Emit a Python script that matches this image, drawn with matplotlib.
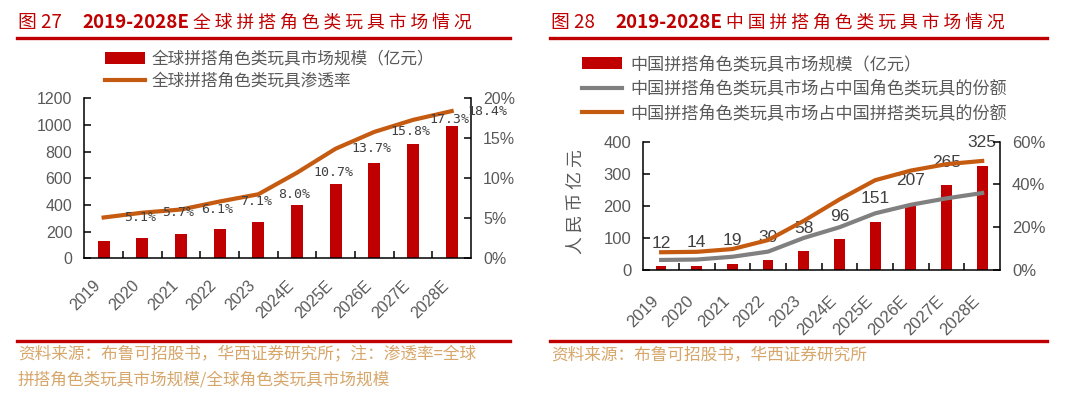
import numpy as np
import matplotlib
matplotlib.use("Agg")
import matplotlib.pyplot as plt
from matplotlib.ticker import PercentFormatter

# data
years = ["2019", "2020", "2021", "2022", "2023", "2024E", "2025E", "2026E", "2027E", "2028E"]
global_size = [128, 151, 183, 223, 275, 401, 561, 713, 854, 990]          # 亿元
global_rate = [5.1, 5.7, 6.1, 7.1, 8.0, 10.7, 13.7, 15.8, 17.3, 18.4]     # %
china_size = [12, 14, 19, 30, 58, 96, 151, 207, 265, 325]                 # 人民币亿元
share_of_role = [4.7, 4.9, 6.2, 8.6, 15.0, 20.0, 26.5, 30.5, 33.5, 36.0]   # % of China role toys
share_of_build = [8.3, 8.5, 9.8, 14.0, 23.0, 33.0, 42.0, 46.5, 49.5, 51.0]  # % of China building toys

RED = "#C00000"
ORANGE = "#C55A11"
GRAY = "#808080"
TXT = "#595959"
LBL = "#404040"
SRC = "#D6A66A"
CJK = ["Noto Sans CJK SC", "DejaVu Sans"]

plt.rcParams["font.family"] = ["Liberation Sans", "Noto Sans CJK SC"]

W, H = 1074, 396
fig = plt.figure(figsize=(W / 100, H / 100), dpi=100)


def fx(px):
    return px / W


def fy(py):
    return 1 - py / H


def style(ax, axr, fs, xpad):
    for a in (ax, axr):
        a.spines["top"].set_visible(False)
        for s in a.spines.values():
            s.set_linewidth(1.1)
            s.set_color("black")
    ax.spines["right"].set_visible(False)
    axr.spines["left"].set_visible(False)
    axr.spines["bottom"].set_visible(False)
    ax.tick_params(axis="y", direction="in", length=5, width=1.1, pad=8.6,
                   labelsize=fs, labelcolor=TXT)
    axr.tick_params(axis="y", direction="in", length=5, width=1.1, pad=8.6,
                    labelsize=fs, labelcolor=TXT)
    idx = np.arange(len(years))
    ax.set_xticks(idx)
    ax.set_xticklabels(years, rotation=45, ha="right")
    ax.set_xticks(idx[:-1] + 0.5, minor=True)
    ax.tick_params(axis="x", which="major", length=0, pad=xpad, labelsize=fs, labelcolor=TXT)
    ax.tick_params(axis="x", which="minor", direction="in", length=5, width=1.1)
    ax.set_xlim(-0.5, len(years) - 0.5)
    axr.yaxis.set_major_formatter(PercentFormatter(xmax=100, decimals=0))


x = np.arange(len(years))

# ---- left: global market ----
ax1 = fig.add_axes([fx(84.3), fy(258.3), (471 - 84.3) / W, 160 / H])
ax1r = ax1.twinx()
bars1 = ax1.bar(x, global_size, width=0.31, color=RED)
line1, = ax1r.plot(x, global_rate, color=ORANGE, lw=3)
ax1.set_ylim(0, 1200)
ax1.set_yticks(range(0, 1201, 200))
ax1r.set_ylim(0, 20)
ax1r.set_yticks(range(0, 21, 5))
style(ax1, ax1r, 11.5, 14)
for i, v in enumerate(global_rate):
    ax1r.annotate(f"{v:.1f}%", (x[i], v), xytext=(26, 0), textcoords="offset points",
                  ha="center", va="center", fontsize=9.5, family="DejaVu Sans Mono", color=LBL)

fig.legend(handles=[bars1, line1],
           labels=["全球拼搭角色类玩具市场规模（亿元）", "全球拼搭角色类玩具渗透率"],
           loc="upper left", bbox_to_anchor=(fx(105), fy(51)), frameon=False,
           prop={"family": CJK, "size": 12}, labelcolor=TXT, handlelength=2.4,
           handletextpad=0.42, borderpad=0, borderaxespad=0, labelspacing=0.3)

# ---- right: China market ----
ax2 = fig.add_axes([fx(643.3), fy(270), 356.7 / W, 128.3 / H])
ax2r = ax2.twinx()
bars2 = ax2.bar(x, china_size, width=0.3, color=RED)
line_role, = ax2r.plot(x, share_of_role, color=GRAY, lw=3)
line_build, = ax2r.plot(x, share_of_build, color=ORANGE, lw=3)
ax2.set_ylim(0, 400)
ax2.set_yticks(range(0, 401, 100))
ax2r.set_ylim(0, 60)
ax2r.set_yticks(range(0, 61, 20))
style(ax2, ax2r, 12, 16.5)
for i, v in enumerate(china_size):
    ax2.annotate(str(v), (x[i], v), xytext=(0, 16.5), textcoords="offset points",
                 ha="center", va="center", fontsize=12.5, color=LBL)
ax2.set_ylabel("人 民 币 亿 元", family=CJK, fontsize=12.8, color=TXT)
ax2.yaxis.set_label_coords(-0.163, 0.53)

fig.legend(handles=[bars2, line_role, line_build],
           labels=["中国拼搭角色类玩具市场规模（亿元）",
                   "中国拼搭角色类玩具市场占中国角色类玩具的份额",
                   "中国拼搭角色类玩具市场占中国拼搭类玩具的份额"],
           loc="upper left", bbox_to_anchor=(fx(582), fy(55)), frameon=False,
           prop={"family": CJK, "size": 12.3}, labelcolor=TXT, handlelength=2.35,
           handletextpad=0.47, borderpad=0, borderaxespad=0, labelspacing=0.38)

# ---- titles, rules and sources ----
for x0, x1, num, region in [(17, 510, "图 27", "全球"), (550, 1047, "图 28", "中国")]:
    fig.text(fx(x0 + 1), fy(22.5), num, color=RED, fontsize=13.5, family=CJK, va="center")
    fig.text(fx(x0 + 65), fy(22.5), "2019-2028E", color=RED, fontsize=13.5, family=CJK,
             weight="bold", va="center")
    fig.text(fx(x0 + 176), fy(22.5), " ".join(region + "拼搭角色类玩具市场情况"), color=RED,
             fontsize=12.8, family=CJK, va="center")
    for yy in (37.7, 341):
        fig.add_artist(plt.Line2D([fx(x0), fx(x1)], [fy(yy), fy(yy)], color=RED, lw=2.4,
                                  transform=fig.transFigure))

fig.text(fx(18), fy(355), "资料来源：布鲁可招股书，华西证券研究所；注：渗透率=全球",
         color=SRC, fontsize=12, family=CJK, va="center")
fig.text(fx(18), fy(380), "拼搭角色类玩具市场规模/全球角色类玩具市场规模",
         color=SRC, fontsize=12, family=CJK, va="center")
fig.text(fx(551), fy(355), "资料来源：布鲁可招股书，华西证券研究所",
         color=SRC, fontsize=12, family=CJK, va="center")

fig.savefig("out.png", dpi=100)
